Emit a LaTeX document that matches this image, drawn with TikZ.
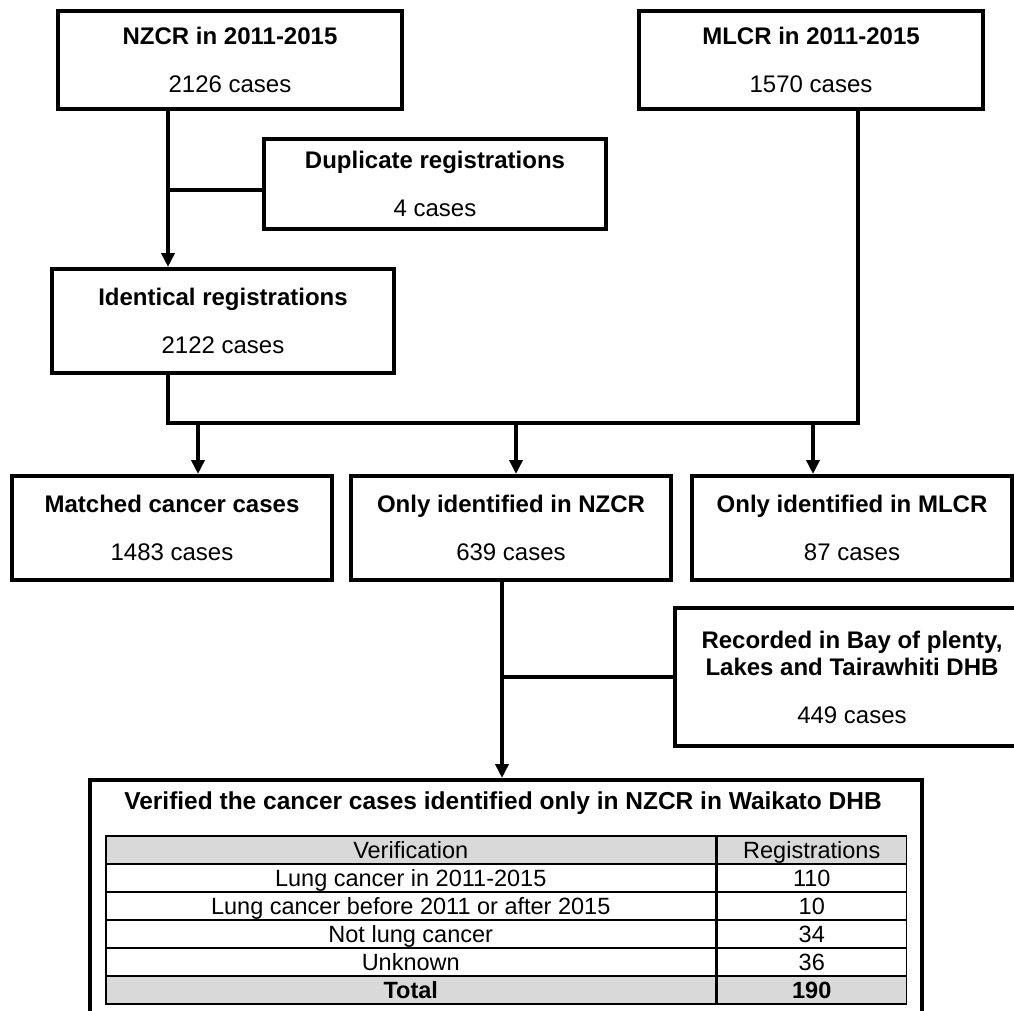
\documentclass[tikz,border=0pt]{standalone}
\usepackage{fontspec}
\setmainfont{Liberation Sans}
\usetikzlibrary{arrows.meta,positioning}

\begin{document}
\begin{tikzpicture}[x=1pt,y=-1pt]
\tikzset{box/.style={draw,line width=4pt,anchor=north west,align=center,inner sep=0pt,font=\fontsize{24}{48}\selectfont}}
\tikzset{link/.style={line width=3.5pt}}
\tikzset{arr/.style={link,-{Triangle[width=13pt,length=14pt]}}}
\tikzset{cell/.style={draw,line width=1.5pt,minimum height=28pt,text height=20pt,text depth=3pt,inner sep=0pt,font=\fontsize{23.5}{28}\selectfont}}
\clip (0,0) rectangle (1014,1011);
% registries
\node[box,minimum width=344pt,minimum height=98pt] (nzcr) at (56,9) {\textbf{NZCR in 2011-2015}\\2126 cases};
\node[box,minimum width=344pt,minimum height=98pt] (mlcr) at (637,9) {\textbf{MLCR in 2011-2015}\\1570 cases};
\node[box,minimum width=342pt,minimum height=90pt] (dup) at (262,137) {\textbf{Duplicate registrations}\\4 cases};
\node[box,minimum width=342pt,minimum height=104pt] (ident) at (50,267) {\textbf{Identical registrations}\\2122 cases};
% matching
\node[box,minimum width=320pt,minimum height=104pt] (matched) at (10,474) {\textbf{Matched cancer cases}\\1483 cases};
\node[box,minimum width=320pt,minimum height=104pt] (onlynz) at (349,474) {\textbf{Only identified in NZCR}\\639 cases};
\node[box,minimum width=320pt,minimum height=104pt] (onlyml) at (690,474) {\textbf{Only identified in MLCR}\\87 cases};
\node[box,minimum width=354pt,minimum height=138pt] (rec) at (673,606) {\textbf{Recorded in Bay of plenty,}\\[-21pt]\textbf{Lakes and Tairawhiti DHB}\\449 cases};
\node[box,minimum width=832pt,minimum height=260pt] (verif) at (88,778) {};
\node[font=\bfseries\fontsize{24.5}{28}\selectfont] (veriftitle) at (503,803) {Verified the cancer cases identified only in NZCR in Waikato DHB};
% table
\node[cell,fill=gray!30,minimum width=610pt,anchor=north west] (ver0) at (105,835) {Verification};
\node[cell,fill=gray!30,minimum width=189pt,anchor=west] (reg0) at (ver0.east) {Registrations};
\foreach \ver/\reg [count=\r] in {{Lung cancer in 2011-2015}/110,{Lung cancer before 2011 or after 2015}/10,{Not lung cancer}/34,Unknown/36}{
  \node[cell,minimum width=610pt,anchor=north west] (ver\r) at ({105},{835+28*\r}) {\ver};
  \node[cell,minimum width=189pt,anchor=west] (reg\r) at (ver\r.east) {\reg};
}
\node[cell,fill=gray!30,minimum width=610pt,anchor=north west,font=\bfseries\fontsize{23.5}{28}\selectfont] (ver5) at (105,975) {Total};
\node[cell,fill=gray!30,minimum width=189pt,anchor=west,font=\bfseries\fontsize{23.5}{28}\selectfont] (reg5) at (ver5.east) {190};
% connectors
\coordinate (split1) at (168,190);
\coordinate (join) at (168,423);
\coordinate (mldown) at (858,423);
\coordinate (to1) at (198,423);
\coordinate (to2) at (516,423);
\coordinate (to3) at (813,423);
\coordinate (split2) at (502,677);
\draw[arr] (nzcr.south -| split1) -- (ident.north -| split1);
\draw[link] (split1) -- (split1 -| dup.west);
\draw[link] (ident.south -| join) -- (join) -- (mldown) -- (mlcr.south -| mldown);
\draw[arr] (to1) -- (to1 |- matched.north);
\draw[arr] (to2) -- (to2 |- onlynz.north);
\draw[arr] (to3) -- (to3 |- onlyml.north);
\draw[arr] (onlynz.south -| split2) -- (verif.north -| split2);
\draw[link] (split2) -- (split2 -| rec.west);
\end{tikzpicture}
\end{document}
